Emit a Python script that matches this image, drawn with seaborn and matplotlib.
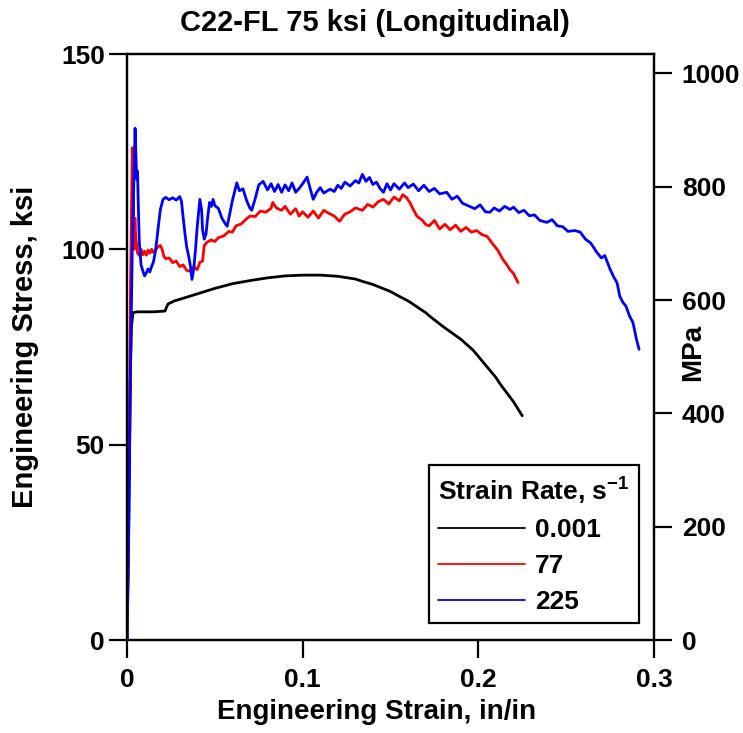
import matplotlib
matplotlib.use("Agg")
import matplotlib.pyplot as plt
import numpy as np
import pandas as pd
import seaborn as sns

# strain (in/in), stress (ksi)
strain_001 = [0, 0.0008, 0.0015, 0.002, 0.0025, 0.0034, 0.006, 0.01, 0.015, 0.0216, 0.0233,
              0.027, 0.03, 0.035, 0.04, 0.05, 0.06, 0.07, 0.08, 0.09, 0.1, 0.11, 0.12,
              0.13, 0.134, 0.14, 0.15, 0.154, 0.16, 0.17, 0.172, 0.18, 0.19, 0.197, 0.2,
              0.21, 0.2123, 0.22, 0.225]
stress_001 = [0, 20, 50, 70, 80, 83.8, 84.0, 84.0, 84.0, 84.2, 86.0,
              86.8, 87.2, 87.9, 88.6, 90.0, 91.2, 92.0, 92.7, 93.2, 93.4, 93.4, 93.1,
              92.4, 91.8, 91.0, 89.2, 88.2, 86.8, 83.8, 83.0, 80.2, 77.0, 74.2, 72.6,
              67.2, 65.6, 61.0, 57.4]

strain_77 = [0, 0.001, 0.002, 0.003, 0.0035, 0.004, 0.0045, 0.005, 0.006, 0.007, 0.008,
             0.009, 0.010, 0.011, 0.012, 0.013, 0.014, 0.015, 0.016, 0.017, 0.018, 0.019,
             0.02, 0.021, 0.022, 0.024, 0.026, 0.028, 0.03, 0.032, 0.034, 0.036, 0.038,
             0.04, 0.0415, 0.043, 0.044, 0.0455, 0.048, 0.05, 0.052, 0.055, 0.058, 0.06,
             0.062, 0.065, 0.068, 0.07, 0.073, 0.076, 0.079, 0.082, 0.083, 0.085, 0.088,
             0.09, 0.093, 0.096, 0.098, 0.1, 0.103, 0.106, 0.109, 0.112, 0.115, 0.118,
             0.121, 0.124, 0.127, 0.13, 0.134, 0.137, 0.14, 0.143, 0.146, 0.149, 0.152,
             0.155, 0.157, 0.159, 0.161, 0.163, 0.165, 0.168, 0.17, 0.172, 0.175, 0.178,
             0.181, 0.184, 0.187, 0.19, 0.193, 0.196, 0.199, 0.202, 0.205, 0.208, 0.211,
             0.214, 0.216, 0.218, 0.22, 0.2226]
stress_77 = [0, 40, 90, 126, 118, 100, 108, 103, 99, 98.5, 100,
             98.6, 99.5, 98.5, 99.8, 99, 100, 99.2, 99.6, 100.3, 100.8, 101,
             100, 98.2, 97.6, 97.8, 96.6, 97, 95.6, 96, 94.6, 94.4, 95.6,
             94.8, 96.7, 97, 101, 101.8, 102.4, 102, 103, 103.4, 104.6, 104.4,
             106, 106.5, 107.8, 108.5, 108.4, 109.8, 109.5, 110.5, 112, 110.6, 110,
             111, 109, 110.4, 108.5, 109.6, 108.2, 109.8, 108, 110, 109.2, 108.5,
             107.2, 109, 109.6, 110.6, 110, 111.5, 110.8, 112.2, 112.8, 111.6, 113.4,
             112.4, 114, 113.3, 112, 110.2, 108.5, 107.5, 106.4, 106, 107.4, 105.2,
             106.4, 105, 106.2, 104.6, 105.6, 104.4, 104.8, 103.8, 103.3, 101.5, 99.8,
             97.4, 96.2, 94.8, 93.8, 91.5]

strain_225 = [0, 0.001, 0.002, 0.003, 0.004, 0.0046, 0.005, 0.0055, 0.006, 0.0065, 0.007,
              0.008, 0.009, 0.010, 0.011, 0.012, 0.013, 0.014, 0.015, 0.016, 0.017, 0.018,
              0.019, 0.0205, 0.022, 0.024, 0.026, 0.028, 0.030, 0.031, 0.032, 0.033, 0.034,
              0.035, 0.036, 0.037, 0.038, 0.039, 0.04, 0.0415, 0.0425, 0.043, 0.044, 0.045,
              0.046, 0.047, 0.048, 0.049, 0.05, 0.052, 0.054, 0.056, 0.057, 0.058, 0.06,
              0.0625, 0.064, 0.066, 0.068, 0.07, 0.071, 0.073, 0.075, 0.0775, 0.08, 0.082,
              0.084, 0.086, 0.088, 0.09, 0.092, 0.094, 0.096, 0.098, 0.1, 0.1025, 0.104,
              0.106, 0.108, 0.11, 0.112, 0.1156, 0.118, 0.12, 0.122, 0.124, 0.127, 0.13,
              0.132, 0.134, 0.136, 0.138, 0.14, 0.142, 0.144, 0.146, 0.148, 0.15, 0.152,
              0.155, 0.158, 0.16, 0.163, 0.166, 0.169, 0.172, 0.175, 0.178, 0.182, 0.185,
              0.188, 0.191, 0.195, 0.198, 0.201, 0.204, 0.2066, 0.209, 0.212, 0.215, 0.218,
              0.22, 0.223, 0.226, 0.229, 0.232, 0.235, 0.239, 0.242, 0.245, 0.248, 0.251,
              0.255, 0.258, 0.261, 0.264, 0.2675, 0.27, 0.272, 0.275, 0.277, 0.279, 0.2805,
              0.2823, 0.284, 0.286, 0.288, 0.29, 0.2915]
stress_225 = [0, 30, 70, 100, 120, 131, 125, 118, 120, 110, 102,
              96, 94.5, 93.2, 94, 95, 94.2, 95.6, 96.7, 99, 102.5, 106.5,
              110.2, 112.8, 113.3, 112.7, 113.2, 112.6, 113.5, 112.3, 108, 104, 100.5,
              98.5, 96, 92.3, 95, 100, 106, 112.8, 110, 105, 102.6, 104,
              108.5, 112, 111, 112.8, 111.2, 110.5, 108, 106.5, 105.9, 108, 112.5,
              117, 115, 115.5, 112.6, 110.5, 110, 113, 116.5, 117.4, 115.2, 116.8,
              114.8, 116.6, 114.6, 116.5, 115, 117, 114.6, 115.6, 116.8, 118.5, 116,
              112.8, 114.6, 115.8, 114.4, 115.4, 114.8, 116.4, 115.6, 117.2, 116.2, 117.6,
              117, 119.2, 117.4, 118.4, 116.6, 117.2, 115.6, 114.6, 116.8, 115.2, 116.8,
              115.4, 117, 115.8, 116.7, 115, 116.4, 114.8, 115.6, 114.2, 114.6, 112.8,
              113.6, 111.8, 111, 110.4, 111.4, 109.6, 109.5, 110.6, 109.8, 111, 110.2,
              110.8, 109.4, 110, 108.6, 108.8, 107.4, 106.9, 107.6, 106, 105.8, 104.6,
              104.8, 104.4, 102.6, 101.6, 99.2, 97.8, 98.4, 94.9, 93, 91.4, 88,
              86.4, 85.5, 83, 81.3, 77, 74.4]

rates = ["0.001", "77", "225"]
colors = ["black", "red", "blue"]
KSI_TO_MPA = 6.894757

df = pd.concat([
    pd.DataFrame({"strain": strain_001, "stress": stress_001, "rate": "0.001"}),
    pd.DataFrame({"strain": strain_77, "stress": stress_77, "rate": "77"}),
    pd.DataFrame({"strain": strain_225, "stress": stress_225, "rate": "225"}),
], ignore_index=True)

sns.set_theme(style="white")
plt.rcParams["font.family"] = ["Liberation Sans", "DejaVu Sans"]
plt.rcParams["font.weight"] = "bold"
plt.rcParams["text.color"] = "black"
plt.rcParams["axes.labelcolor"] = "black"
plt.rcParams["mathtext.fontset"] = "custom"
plt.rcParams["mathtext.rm"] = "Liberation Sans:bold"
plt.rcParams["mathtext.bf"] = "Liberation Sans:bold"

fig = plt.figure(figsize=(7.43, 7.33), dpi=100)
ax = fig.add_axes([127/743, 1-640/733, 527/743, 586/733])

sns.lineplot(data=df, x="strain", y="stress", hue="rate", hue_order=rates,
             palette=colors, estimator=None, sort=False, linewidth=2.0, ax=ax)

ax.set_xlim(0, 0.3); ax.set_ylim(0, 150)
ax.set_xticks([0, 0.1, 0.2, 0.3]); ax.set_xticklabels(["0", "0.1", "0.2", "0.3"])
ax.set_yticks([0, 50, 100, 150])
for s in ax.spines.values():
    s.set_color("black"); s.set_linewidth(1.6)
ax.tick_params(axis="x", direction="out", length=13, width=1.6, labelsize=19, pad=7, colors="black", bottom=True)
ax.tick_params(axis="y", direction="out", length=13, width=1.6, labelsize=19, pad=3, colors="black", left=True)

ax.set_xlabel("Engineering Strain, in/in", fontsize=20, fontweight="bold", color="black")
ax.set_ylabel("Engineering Stress, ksi", fontsize=21, fontweight="bold", color="black")
ax.xaxis.set_label_coords((377-127)/527, -0.1)
ax.yaxis.set_label_coords((39-127)/527, 0.5)

ax2 = ax.twinx()
ax2.set_ylim(0, 150*KSI_TO_MPA)
ax2.set_yticks([0, 200, 400, 600, 800, 1000])
ax2.tick_params(axis="y", direction="out", length=13, width=1.6, labelsize=19, pad=7, colors="black", right=True)
ax2.set_ylabel("MPa", fontsize=20, fontweight="bold", color="black")
ax2.yaxis.set_label_coords((680-127)/527, 0.49)
ax2.grid(False)
for s in ax2.spines.values():
    s.set_color("black"); s.set_linewidth(1.6)

fig.suptitle("C22-FL 75 ksi (Longitudinal)", x=0.505, y=1-31/733, va="baseline",
             fontsize=21, fontweight="bold", color="black")

handles, labels = ax.get_legend_handles_labels()
leg = ax.legend(handles, labels, title="Strain Rate, s$^{-1}$", loc="lower right",
                bbox_to_anchor=((639-127)/527, (640-623)/586), borderaxespad=0,
                fontsize=19, title_fontsize=19, frameon=True, fancybox=False,
                framealpha=1, edgecolor="black", handlelength=3.3, handletextpad=0.35,
                labelspacing=0.45, borderpad=0.35, alignment="left")
leg.get_frame().set_linewidth(1.6)
for h in leg.legend_handles:
    h.set_linewidth(1.3)
for t in leg.get_texts():
    t.set_fontweight("bold"); t.set_color("black")
leg.get_title().set_fontweight("bold")
leg.get_title().set_color("black")

fig.savefig("out.png", dpi=100)
